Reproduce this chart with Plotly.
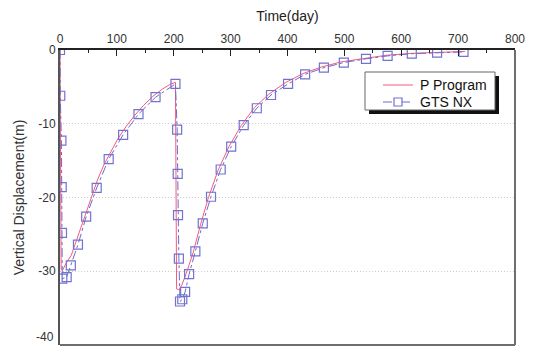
import plotly.graph_objects as go

# P Program: computed settlement history (two loading stages)
p_time = [0, 2, 5, 10, 20, 28, 37, 46, 56, 66, 77, 89, 102, 116, 131, 147, 163, 180, 195, 203,
          205, 209, 214, 222, 234, 247, 261, 278, 297, 319, 342, 367, 397, 427, 460, 495,
          535, 575, 620, 665, 712]
p_disp = [0, -29.7, -29.8, -29.0, -27.8, -26.0, -23.9, -21.8, -19.6, -17.6, -15.6, -13.8, -12.0,
          -10.4, -8.9, -7.5, -6.3, -5.3, -4.6, -4.4,
          -32.4, -32.5, -31.9, -30.3, -27.5, -23.7, -20.0, -16.3, -13.1, -10.2, -7.8, -6.0,
          -4.4, -3.2, -2.3, -1.6, -1.1, -0.7, -0.45, -0.3, -0.2]

# GTS NX: finite element results
gts_time = [0, 0.5, 2.5, 3, 3.5, 4, 11.7, 19, 31.6, 46, 64.5, 85.6, 111, 138, 168, 203,
            206, 207, 207.5, 209, 211, 215, 220, 227, 238, 251, 265.5, 282.5, 301, 323,
            346, 371, 401, 431, 464, 499, 538, 576, 618.5, 663, 709.5]
gts_disp = [0, -6.2, -12.3, -18.6, -24.8, -31.0, -30.8, -29.2, -26.4, -22.6, -18.7, -14.8,
            -11.5, -8.7, -6.4, -4.6,
            -10.8, -16.8, -22.4, -28.3, -34.1, -33.8, -32.8, -30.4, -27.3, -23.5, -19.9,
            -16.2, -13.1, -10.2, -7.9, -6.1, -4.6, -3.3, -2.4, -1.7, -1.2, -0.8, -0.5,
            -0.35, -0.25]

x_ticks = [0, 100, 200, 300, 400, 500, 600, 700, 800]
y_ticks = [0, -10, -20, -30, -40]

series_names = ["P Program", "GTS NX"]
RED = "#f75a7c"
BLUE = "#6b6bd0"
FONT = "Liberation Sans, Arial, sans-serif"

W, H = 534, 347
ML, MR, MT, MB = 60, 19, 50, 2
PW, PH = W - ML - MR, H - MT - MB


def px(x):
    """Figure pixel column -> paper x."""
    return (x - ML) / PW


def py(y):
    """Figure pixel row -> paper y."""
    return 1 - (y - MT) / PH


fig = go.Figure()
fig.add_trace(go.Scatter(
    x=p_time, y=p_disp, mode="lines", name=series_names[0], showlegend=False,
    line=dict(color=RED, width=1),
))
fig.add_trace(go.Scatter(
    x=gts_time, y=gts_disp, mode="lines+markers", name=series_names[1], showlegend=False,
    line=dict(color=BLUE, width=1, dash="dashdot"),
    marker=dict(symbol="square-open", size=9, color="#7272d0", line=dict(width=1.2)),
))

shapes = [
    # grey bottom / right frame
    dict(type="line", xref="paper", yref="paper", x0=0, x1=1, y0=0, y1=0,
         line=dict(color="#6e6e6e", width=2)),
    dict(type="line", xref="paper", yref="paper", x0=1, x1=1, y0=0, y1=1,
         line=dict(color="#6e6e6e", width=2)),
    # legend box with drop shadow
    dict(type="rect", xref="paper", yref="paper", x0=px(369), x1=px(499), y0=py(114), y1=py(76),
         fillcolor="#111111", line=dict(width=0), layer="above"),
    dict(type="rect", xref="paper", yref="paper", x0=px(365), x1=px(495), y0=py(110), y1=py(72),
         fillcolor="white", line=dict(color="#666666", width=1), layer="above"),
    # legend samples
    dict(type="line", xref="paper", yref="paper", x0=px(383), x1=px(413), y0=py(85), y1=py(85),
         line=dict(color=RED, width=1), layer="above"),
    dict(type="line", xref="paper", yref="paper", x0=px(383), x1=px(413), y0=py(102), y1=py(102),
         line=dict(color=BLUE, width=1, dash="dashdot"), layer="above"),
    dict(type="rect", xref="paper", yref="paper", x0=px(394), x1=px(402), y0=py(106), y1=py(98),
         fillcolor="white", line=dict(color="#7272d0", width=1.2), layer="above"),
]

annotations = [
    dict(text=series_names[0], xref="paper", yref="paper", x=px(418), y=py(85),
         xanchor="left", yanchor="middle", showarrow=False,
         font=dict(family=FONT, size=14, color="#111")),
    dict(text=series_names[1], xref="paper", yref="paper", x=px(418), y=py(102),
         xanchor="left", yanchor="middle", showarrow=False,
         font=dict(family=FONT, size=14, color="#111")),
    # bottom tick label, kept inside the figure edge
    dict(text=str(y_ticks[-1]), xref="paper", yref="y", x=0, y=y_ticks[-1],
         xanchor="right", yanchor="bottom", xshift=-4, yshift=-1, showarrow=False,
         font=dict(family=FONT, size=12, color="#333")),
]

fig.update_layout(
    width=W, height=H,
    margin=dict(l=ML, r=MR, t=MT, b=MB),
    paper_bgcolor="white", plot_bgcolor="white",
    font=dict(family=FONT, size=12, color="#222"),
    showlegend=False,
    shapes=shapes,
    annotations=annotations,
    xaxis=dict(
        side="top", range=[0, 800], tickvals=x_ticks, ticktext=[str(v) for v in x_ticks],
        ticks="inside", ticklen=6, tickcolor="#222", tickwidth=1,
        minor=dict(ticks="inside", ticklen=3, dtick=50, tickcolor="#222"),
        showline=True, linecolor="#222", linewidth=1.5,
        showgrid=False, zeroline=False,
        tickfont=dict(size=12, color="#333"),
        title=dict(text="Time(day)", font=dict(size=14, color="#222"), standoff=8),
    ),
    yaxis=dict(
        range=[-40, 0], tickvals=y_ticks[:-1], ticktext=[str(v) for v in y_ticks[:-1]],
        ticks="", showline=True, linecolor="#555", linewidth=2,
        showgrid=True, gridcolor="#cccccc", griddash="1px,2px", gridwidth=1,
        zeroline=False,
        tickfont=dict(size=12, color="#333"),
        title=dict(text="Vertical Displacement(m)", font=dict(size=14, color="#333"), standoff=10),
    ),
)

fig.write_html("out.html")
